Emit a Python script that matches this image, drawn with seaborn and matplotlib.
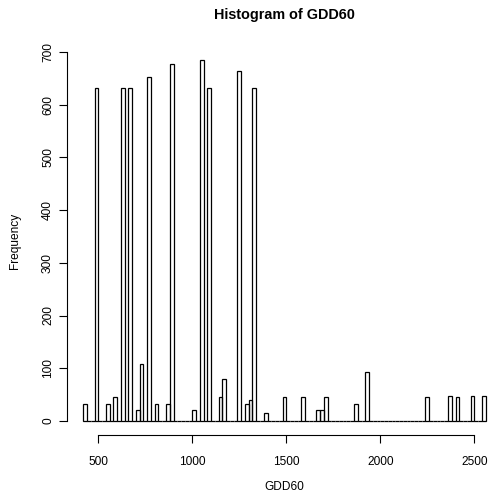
import numpy as np
import pandas as pd
import matplotlib
matplotlib.use("Agg")
import matplotlib.pyplot as plt
import seaborn as sns

# Left edges of the occupied 20-unit GDD60 bins and their counts
bin_left = [420, 480, 540, 580, 620, 660, 700, 720, 760, 800, 860, 880,
            1000, 1040, 1080, 1140, 1160, 1240, 1280, 1300, 1320, 1380,
            1480, 1580, 1660, 1680, 1700, 1860, 1920, 2240, 2360, 2400,
            2480, 2540]
frequency = [32, 632, 32, 45, 632, 632, 20, 109, 653, 32, 32, 677,
             20, 684, 632, 45, 80, 664, 32, 39, 632, 15,
             45, 45, 20, 20, 45, 32, 92, 45, 47, 45,
             47, 47]
x_ticks = [500, 1000, 1500, 2000, 2500]
y_ticks = [0, 100, 200, 300, 400, 500, 600, 700]

bin_width = 20
range_lo, range_hi = 420, 2560
df = pd.DataFrame({"GDD60": np.array(bin_left, dtype=float) + bin_width / 2,
                   "n": np.array(frequency, dtype=float)})

sns.set_style("white")
plt.rcParams["font.family"] = ["Liberation Sans", "DejaVu Sans"]
plt.rcParams["text.color"] = "black"
plt.rcParams["axes.labelcolor"] = "black"

W, H = 489, 498
fig = plt.figure(figsize=(W / 100, H / 100), dpi=100)
# plot region in pixels: left 67.2, right 501.7, top 46, bottom 435.4
ax = fig.add_axes([67.2 / W, 1 - 435.4 / H, (501.7 - 67.2) / W, (435.4 - 46) / H])

sns.histplot(data=df, x="GDD60", weights="n", binwidth=bin_width,
             binrange=(range_lo, range_hi), fill=False,
             color="black", linewidth=0.9, element="bars", ax=ax)

pad = 0.04 * (range_hi - range_lo)
ax.set_xlim(range_lo - pad, range_hi + pad)
ymax = max(frequency)
ax.set_ylim(-0.04 * ymax, ymax * 1.04)

for s in ["top", "right"]:
    ax.spines[s].set_visible(False)
ax.spines["bottom"].set_bounds(x_ticks[0], x_ticks[-1])
ax.spines["left"].set_bounds(y_ticks[0], y_ticks[-1])
for s in ["bottom", "left"]:
    ax.spines[s].set_linewidth(0.8)
    ax.spines[s].set_color("black")

ax.set_xticks(x_ticks)
ax.set_yticks(y_ticks)
ax.tick_params(axis="both", bottom=True, left=True, direction="out",
               length=5.5, width=0.8, colors="black", labelsize=8.6, pad=9)
ax.tick_params(axis="y", pad=4)
for lab in ax.get_yticklabels():
    lab.set_rotation(90)
    lab.set_va("center")

ax.set_xlabel("GDD60", fontsize=8.6, labelpad=10)
ax.set_ylabel("Frequency", fontsize=8.6, labelpad=15)

fig.text((67.2 + 501.7) / 2 / W, 1 - 14.5 / H, "Histogram of GDD60",
         ha="center", va="center", fontsize=10.4, fontweight="bold")

fig.savefig("out.png", dpi=100)
